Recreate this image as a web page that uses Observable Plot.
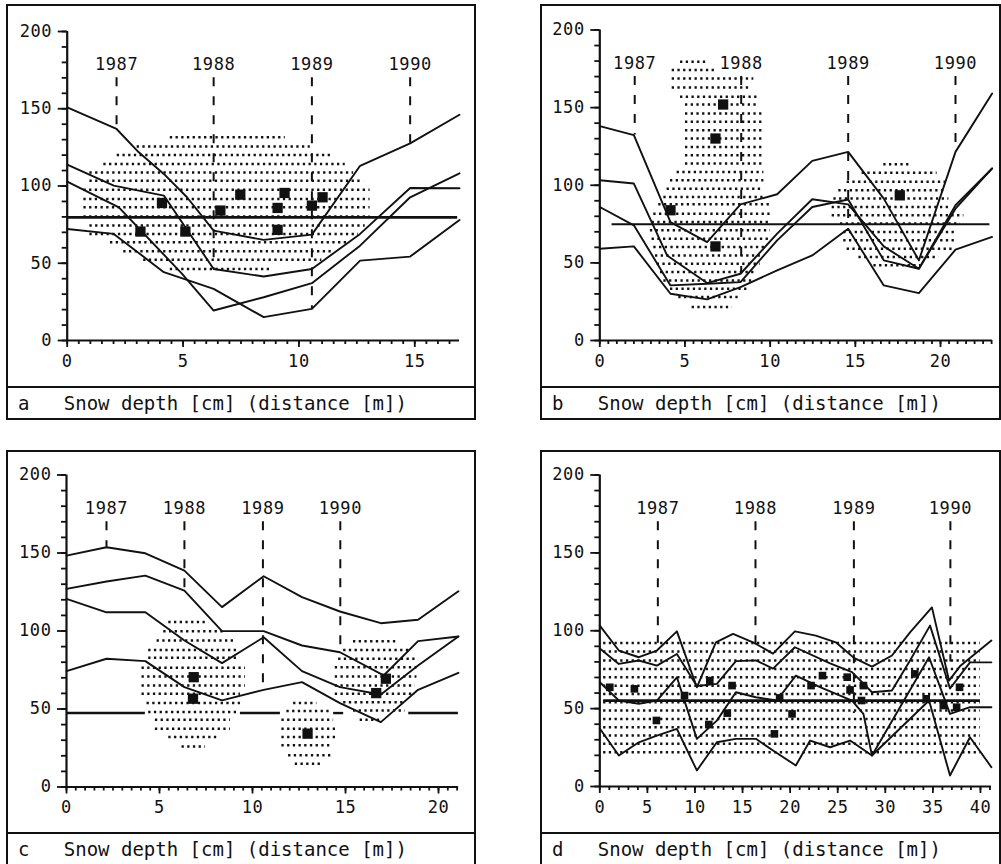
<!DOCTYPE html>
<html><head><meta charset="utf-8">
<script src="https://cdn.jsdelivr.net/npm/d3@7"></script>
<script src="https://cdn.jsdelivr.net/npm/@observablehq/plot@0.6"></script>
<style>
body{margin:0;background:#fff;width:1001px;height:864px;overflow:hidden;position:relative;font-family:"DejaVu Sans Mono",monospace;}
.panel{position:absolute;border:2px solid #111;box-sizing:border-box;background:#fff;overflow:hidden}
.cap{border-top:2px solid #111;height:30px;line-height:30px;font-size:19px;white-space:pre;padding-left:10px;color:#111}
svg{display:block}
svg text{letter-spacing:0.6px}
</style></head><body>
<div id="a" class="panel" style="left:6px;top:4px;width:470px;height:416px"></div>
<div id="b" class="panel" style="left:540px;top:4px;width:461px;height:416px"></div>
<div id="c" class="panel" style="left:6px;top:450px;width:470px;height:416px"></div>
<div id="d" class="panel" style="left:540px;top:450px;width:461px;height:416px"></div>
<script>
const years = ["1987", "1988", "1989", "1990"];
const caption = "Snow depth [cm] (distance [m])";

// ---- panel a ----
const aLine1 = [[0,150.9],[2.13,136.9],[3.09,121.8],[4.17,107.8],[5.17,92.7],[6.32,71.1],[8.48,65.1],[10.56,68.5],[12.64,113.1],[14.8,127.6],[16.93,146.1]];
const aLine2 = [[0,113.8],[2.01,100.2],[4.17,93.8],[6.32,46.3],[8.48,41.4],[10.56,46.3],[12.64,69.0],[14.8,98.7],[16.93,98.5]];
const aLine3 = [[0,102.8],[2.23,86.2],[4.96,43.1],[6.32,19.4],[8.48,28.0],[10.56,37.1],[12.64,61.4],[14.8,92.7],[16.93,108.2]];
const aLine4 = [[0,72.2],[2.01,69.0],[4.17,44.2],[6.32,33.4],[8.48,15.1],[10.56,20.5],[12.64,51.7],[14.8,54.3],[16.93,78.0]];
const aMarks = [[3.16,70.5],[4.09,89.0],[5.10,70.5],[6.61,84.1],[7.47,94.4],[9.08,85.8],[9.08,71.6],[9.38,95.5],[10.56,87.3],[11.02,92.7]];
const aYearX = [2.13, 6.32, 10.56, 14.8];
const aYearEnd = [136.9, 46.3, 20.5, 127.6];
const aLevel = [[0, 16.85, 79.7]];
const aDots = [[131.5,4.45,9.41],[125.6,3.02,10.49],[120.0,2.16,11.42],[114.2,1.58,12.0],[108.8,0.98,12.36],[103.4,0.98,12.79],[97.6,0.72,13.07],[91.6,0.72,13.07],[86.2,0.72,13.07],[80.2,0.72,13.07],[74.4,0.98,12.86],[69.0,0.98,12.57],[63.6,1.87,12.21],[57.8,2.44,11.49],[52.2,3.30,10.99],[46.3,4.45,8.84]];

// ---- panel b ----
const bLine1 = [[0,138.1],[2.0,132.3],[4.15,76.3],[6.30,63.4],[8.26,87.7],[10.41,94.2],[12.47,115.7],[14.58,121.5],[16.67,91.4],[18.73,51.6],[20.88,121.5],[23.03,159.1]];
const bLine2 = [[0,103.2],[2.0,101.1],[3.95,54.8],[6.30,37.0],[8.26,43.0],[10.41,68.8],[12.47,91.0],[14.58,87.7],[16.67,60.6],[18.73,46.2],[20.88,84.9],[23.03,110.8]];
const bLine3 = [[0,86.0],[2.0,74.2],[4.15,35.5],[6.30,36.6],[8.26,37.6],[10.41,64.5],[12.47,86.0],[14.58,90.8],[16.67,51.6],[18.73,46.2],[20.88,87.1],[23.03,110.8]];
const bLine4 = [[0,59.1],[2.0,60.6],[4.15,30.1],[6.30,26.5],[8.26,34.4],[10.41,45.2],[12.47,54.8],[14.58,72.0],[16.67,35.5],[18.73,30.5],[20.88,58.5],[23.03,66.7]];
const bMarks = [[4.15,83.9],[6.79,60.6],[6.79,130.1],[7.24,152.0],[17.61,93.5]];
const bYearX = [2.05, 8.3, 14.58, 20.88];
const bYearEnd = [132.3, 43.0, 72.0, 121.5];
const bLevel = [[0.72, 22.9, 74.8]];
const bDots = [[179.6,4.74,6.30],[174.2,4.25,6.9],[168.8,4.25,9.04],[163.0,4.25,8.85],[157.0,4.74,9.24],[152.0,5.03,9.24],[146.2,5.03,9.63],[140.9,5.03,9.63],[135.5,5.03,9.63],[130.1,5.03,9.63],[124.7,5.03,9.63],[119.4,5.03,9.63],[114.0,5.03,9.63],[108.6,4.54,9.63],[103.2,4.15,9.63],[97.8,3.95,9.63],[92.5,3.76,9.63],[87.7,3.46,10.02],[81.7,3.17,10.02],[76.3,3.07,10.02],[71.0,2.97,10.02],[65.6,3.07,10.02],[60.2,3.17,9.82],[54.8,3.27,9.63],[49.5,3.37,9.43],[44.1,3.56,9.24],[38.7,3.76,9.04],[33.3,4.15,8.65],[28.0,4.64,8.26],[21.5,5.42,7.77],
  [113.5,16.67,18.24],[108.0,15.40,19.80],[102.2,14.52,20.29],[96.8,14.03,20.39],[91.4,13.74,20.49],[86.0,13.64,20.59],[80.6,13.64,21.37],[75.3,14.13,21.17],[69.9,14.32,20.98],[64.5,14.32,20.88],[59.1,14.52,20.88],[53.8,15.21,19.90],[48.4,16.09,18.83]];

// ---- panel c ----
const cLine1 = [[0,148.3],[2.15,153.7],[4.24,149.8],[6.34,138.7],[8.36,115.3],[10.6,135.1],[12.66,121.7],[14.7,112.5],[16.9,105.0],[18.9,107.2],[21.07,125.5]];
const cLine2 = [[0,127.0],[2.15,131.7],[4.24,135.5],[6.34,125.9],[8.36,99.9],[10.6,99.9],[12.66,90.7],[14.7,86.4],[17.05,71.5],[18.9,93.5],[21.07,96.5]];
const cLine3 = [[0,120.6],[2.15,112.0],[4.24,112.0],[6.34,93.9],[8.36,79.4],[10.6,96.0],[12.66,74.3],[14.7,64.0],[16.9,59.3],[18.9,77.9],[21.07,96.5]];
const cLine4 = [[0,74.3],[2.15,82.2],[4.24,80.7],[6.34,64.0],[8.36,55.5],[10.6,62.3],[12.66,67.2],[14.7,53.8],[16.9,41.6],[18.9,62.3],[21.07,73.2]];
const cMarks = [[6.84,70.4],[6.80,56.6],[12.96,34.2],[16.65,60.2],[17.17,69.4]];
const cYearX = [2.15, 6.34, 10.56, 14.72];
const cYearEnd = [153.7, 125.9, 63.0, 86.4];
const cLevel = [[0,4.24,47.4],[9.35,11.5,47.4],[14.36,14.9,47.4],[18.4,21.07,47.4]];
const cDots = [[105.7,5.50,7.65],[99.9,5.23,8.45],[93.9,4.87,9.08],[87.9,4.42,9.17],[82.8,4.42,9.17],[76.4,4.06,9.62],[70.9,4.06,9.62],[65.1,4.06,9.62],[59.8,4.06,9.35],[53.8,4.33,9.35],[48.0,4.42,9.26],[43.1,4.78,8.81],[37.4,4.78,8.81],[32.0,5.50,8.09],[26.0,6.21,7.47],
  [53.8,12.21,13.46],[48.7,11.85,14.27],[43.1,11.58,14.36],[37.4,11.58,14.54],[32.0,11.58,14.54],[26.7,11.58,14.27],[20.3,11.94,14.27],[14.9,12.30,13.82],
  [93.5,15.43,17.76],[87.9,14.90,18.48],[82.2,14.63,18.75],[76.8,14.45,18.84],[70.9,14.45,18.84],[65.1,14.45,18.75],[59.8,14.45,18.75],[54.4,14.90,18.21],[49.1,15.43,18.21],[43.1,15.79,16.87]];

// ---- panel d ----
const dLine1 = [[0,103.3],[2.0,87.3],[4.1,83.0],[6.0,87.3],[8.1,99.6],[10.2,63.7],[12.2,92.6],[14.0,98.0],[16.1,92.6],[18.2,85.3],[20.5,99.6],[22.7,96.9],[24.8,92.6],[26.7,82.6],[28.6,77.0],[30.7,84.1],[32.6,99.0],[34.9,115.0],[36.7,68.0],[37.9,77.6],[41.15,93.7]];
const dLine2 = [[0,88.6],[2.0,78.7],[4.1,80.9],[6.0,77.6],[8.1,85.1],[10.2,64.5],[12.3,65.9],[14.3,80.5],[16.4,81.0],[18.2,75.7],[20.5,89.4],[24.2,79.0],[26.5,73.4],[27.4,68.0],[28.6,60.5],[30.7,61.6],[32.6,80.9],[34.7,103.3],[36.8,62.9],[38.9,79.7],[41.15,79.7]];
const dLine3 = [[0,66.9],[2.0,55.2],[4.1,53.1],[6.0,55.2],[8.1,70.1],[10.2,30.6],[12.3,42.3],[14.3,60.5],[16.4,57.3],[18.6,55.2],[20.6,71.2],[23.2,63.7],[26.5,55.2],[27.7,46.6],[28.6,19.9],[34.6,83.0],[36.8,46.6],[38.9,50.9],[41.15,50.9]];
const dLine4 = [[0,37.2],[2.0,19.9],[4.1,28.4],[6.0,32.7],[8.1,37.0],[10.2,10.3],[12.3,28.4],[14.3,30.6],[16.4,30.6],[18.2,23.1],[20.6,13.5],[22.1,29.5],[24.2,25.2],[26.3,29.5],[28.6,19.9],[34.6,55.2],[36.8,7.1],[38.9,31.6],[41.15,12.4]];
const dMarks = [[1.05,63.7],[3.64,62.7],[5.95,42.4],[8.9,58.4],[11.56,68.0],[11.45,39.8],[13.4,47.1],[13.9,64.8],[18.35,33.8],[18.9,56.9],[20.2,46.6],[22.2,64.8],[23.4,71.2],[26.0,70.2],[26.3,62.0],[27.5,55.2],[27.7,64.8],[33.1,72.3],[34.3,56.3],[36.1,52.0],[37.5,50.9],[37.8,63.7]];
const dYearX = [6.1, 16.36, 26.7, 36.84];
const dYearEnd = [92.0, 85.0, 46.8, 80.0];
const dLevel = [[0.4, 40.0, 55.2]];
const dDotY = [92.2, 86.6, 80.9, 75.5, 70.1, 64.7, 59.4, 54.1, 48.8, 43.4, 38.1, 32.7, 27.4, 22.0];
const dDots = dDotY.map(y => [y, 0.4, 40.0]);

const INK = "#111";

function panel(id, letter, o) {
  const lines = o.lines.flatMap((l, i) => l.map(([x, y]) => ({x, y, s: i})));
  const dots = o.dots.map(([y, x1, x2]) => ({y, x1, x2}));
  const marks = o.marks.map(([x, y]) => ({x, y}));
  const yrs = years.map((t, i) => ({t, x: o.yearX[i], y2: o.yearEnd[i]}));
  const lev = o.level.map(([x1, x2, y]) => ({x1, x2, y}));
  const xMinor = d3.range(0, o.xMax + 1e-9, o.xMinorStep);
  const xMajor = d3.range(0, o.xMax + 1e-9, o.xMajorStep);
  const chart = Plot.plot({
    width: o.width, height: 380,
    marginLeft: o.ml, marginRight: o.mr, marginTop: o.mt, marginBottom: o.mb,
    x: {domain: [0, o.xMax], label: null},
    y: {domain: [0, 200], label: null},
    style: {fontFamily: '"DejaVu Sans Mono", monospace', fontSize: "17px", color: INK, background: "white", overflow: "visible"},
    marks: [
      Plot.ruleY(dots, {y: "y", x1: "x1", x2: "x2", stroke: INK, strokeWidth: 2.5, strokeDasharray: "2.3,3.4"}),
      Plot.ruleY(lev, {y: "y", x1: "x1", x2: "x2", stroke: INK, strokeWidth: o.levelW}),
      Plot.ruleX(yrs, {x: "x", y1: 170, y2: "y2", stroke: INK, strokeWidth: 2, strokeDasharray: "9,10"}),
      Plot.text(yrs, {x: "x", y: 178.5, text: "t", fontSize: 17, fill: INK}),
      Plot.line(lines, {x: "x", y: "y", z: "s", stroke: INK, strokeWidth: 1.9, curve: "linear"}),
      Plot.dot(marks, {x: "x", y: "y", symbol: "square", r: o.r, fill: INK, stroke: null}),
      Plot.ruleX([0], {y1: 0, y2: 200, stroke: INK, strokeWidth: 2.2}),
      Plot.ruleY([0], {x1: 0, x2: o.xMax, stroke: INK, strokeWidth: 2.2}),
      Plot.axisY(d3.range(0, 201, 10), {tickSize: 5, tickFormat: () => "", label: null, strokeWidth: 1.8}),
      Plot.axisY([0, 50, 100, 150, 200], {tickSize: 9, tickPadding: 6, tickFormat: d => String(d), label: null, strokeWidth: 1.8}),
      Plot.axisX(xMinor, {tickSize: 4, tickFormat: () => "", label: null, strokeWidth: 1.8}),
      Plot.axisX(xMajor, {tickSize: 7, tickPadding: 7, tickFormat: d => String(d), label: null, strokeWidth: 1.8})
    ]
  });
  const el = document.getElementById(id);
  el.appendChild(chart);
  const cap = document.createElement("div");
  cap.className = "cap";
  cap.textContent = letter + "   " + caption;
  el.appendChild(cap);
}

panel("a", "a", {lines: [aLine1, aLine2, aLine3, aLine4], dots: aDots, marks: aMarks, yearX: aYearX, yearEnd: aYearEnd, level: aLevel, levelW: 2.8,
  width: 466, ml: 58.7, mr: 15, mt: 25, mb: 46, xMax: 16.93, xMinorStep: 0.5, xMajorStep: 5, r: 5.8});
panel("b", "b", {lines: [bLine1, bLine2, bLine3, bLine4], dots: bDots, marks: bMarks, yearX: bYearX, yearEnd: bYearEnd, level: bLevel, levelW: 2.0,
  width: 457, ml: 57.3, mr: 7.2, mt: 23.5, mb: 46, xMax: 23.04, xMinorStep: 0.5, xMajorStep: 5, r: 5.8});
panel("c", "c", {lines: [cLine1, cLine2, cLine3, cLine4], dots: cDots, marks: cMarks, yearX: cYearX, yearEnd: cYearEnd, level: cLevel, levelW: 2.4,
  width: 466, ml: 58, mr: 15.9, mt: 22.5, mb: 45.5, xMax: 21.08, xMinorStep: 0.5, xMajorStep: 5, r: 5.8});
panel("d", "d", {lines: [dLine1, dLine2, dLine3, dLine4], dots: dDots, marks: dMarks, yearX: dYearX, yearEnd: dYearEnd, level: dLevel, levelW: 2.8,
  width: 457, ml: 57.3, mr: 8.1, mt: 22.5, mb: 46, xMax: 41.15, xMinorStep: 1, xMajorStep: 5, r: 4.3});
</script>
</body></html>
